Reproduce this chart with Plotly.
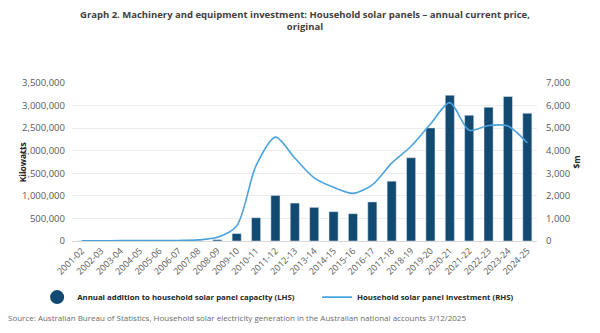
import plotly.graph_objects as go

years = ["2001-02","2002-03","2003-04","2004-05","2005-06","2006-07","2007-08","2008-09",
         "2009-10","2010-11","2011-12","2012-13","2013-14","2014-15","2015-16","2016-17",
         "2017-18","2018-19","2019-20","2020-21","2021-22","2022-23","2023-24","2024-25"]
capacity_kw = [2000, 3000, 4000, 5000, 6000, 8000, 12000, 30000,
               165000, 515000, 1010000, 840000, 745000, 650000, 605000, 865000,
               1325000, 1845000, 2505000, 3230000, 2785000, 2965000, 3200000, 2830000]
investment_m = [10, 12, 15, 15, 18, 25, 50, 165,
                670, 3335, 4600, 3675, 2800, 2380, 2110, 2490,
                3450, 4200, 5180, 6130, 4910, 5120, 5090, 4345]
left_ticks = [0, 500000, 1000000, 1500000, 2000000, 2500000, 3000000, 3500000]
right_ticks = [0, 1000, 2000, 3000, 4000, 5000, 6000, 7000]

BAR = "#134a72"
LINE = "#4ba3dd"
FONT = "Open Sans"

fig = go.Figure()
fig.add_trace(go.Bar(x=years, y=capacity_kw, marker_color=BAR, showlegend=False,
                     name="Annual addition to household solar panel capacity (LHS)"))
fig.add_trace(go.Scatter(x=[None], y=[None], mode="markers",
                         marker=dict(symbol="circle", size=14, color=BAR),
                         name="<b>Annual addition to household solar panel capacity (LHS)</b>",
                         legend="legend"))
fig.add_trace(go.Scatter(x=years, y=investment_m, mode="lines", yaxis="y2",
                         line=dict(color=LINE, width=1.6, shape="spline", smoothing=0.8),
                         name="<b>Household solar panel investment (RHS)</b>",
                         legend="legend2"))

legend_common = dict(font=dict(size=7.8, color="#262626", family=FONT),
                     bgcolor="rgba(0,0,0,0)", yanchor="middle", y=-0.355)

fig.update_layout(
    width=600, height=333,
    margin=dict(l=72, r=63, t=83, b=92),
    paper_bgcolor="white", plot_bgcolor="white",
    font=dict(family=FONT, color="#595959", size=9),
    bargap=0.53,
    xaxis=dict(type="category", tickangle=-45, tickfont=dict(size=9, color="#595959"),
               showline=True, linecolor="#d9d9d9", linewidth=1, ticks="",
               showgrid=False, fixedrange=True),
    yaxis=dict(range=[0, 3500000], tickvals=left_ticks, tickformat=",",
               showgrid=True, gridcolor="#ececec", gridwidth=1, zeroline=False,
               tickfont=dict(size=9.5, color="#595959"), ticks="", ticklabelstandoff=6),
    yaxis2=dict(range=[0, 7000], tickvals=right_ticks, tickformat=",", overlaying="y",
                side="right", showgrid=False, zeroline=False,
                tickfont=dict(size=9.5, color="#595959"), ticks="", ticklabelstandoff=8),
    legend=dict(x=-0.075, xanchor="left", itemwidth=30, **legend_common),
    legend2=dict(x=0.527, xanchor="left", itemwidth=30, **legend_common),
    annotations=[
        dict(text="<b>Graph 2. Machinery and equipment investment: Household solar panels – annual current price,<br>original</b>",
             x=0.5, xanchor="center", y=1.49, yanchor="top", xref="paper", yref="paper",
             showarrow=False, align="center",
             font=dict(family=FONT, size=9.5, color="#404040")),
        dict(text="<b>Kilowatts</b>", textangle=-90, x=-0.123, y=0.5, xref="paper", yref="paper",
             showarrow=False, font=dict(size=8.5, color="#262626", family=FONT)),
        dict(text="<b>$m</b>", textangle=-90, x=1.099, y=0.5, xref="paper", yref="paper",
             showarrow=False, font=dict(size=8.5, color="#262626", family=FONT)),
        dict(text="Source: Australian Bureau of Statistics, Household solar electricity generation in the Australian national accounts 3/12/2025",
             x=-0.142, xanchor="left", y=-0.487, yanchor="middle", xref="paper", yref="paper",
             showarrow=False, font=dict(size=8, color="#6b6b6b", family=FONT)),
    ],
)

fig.write_html("out.html")
